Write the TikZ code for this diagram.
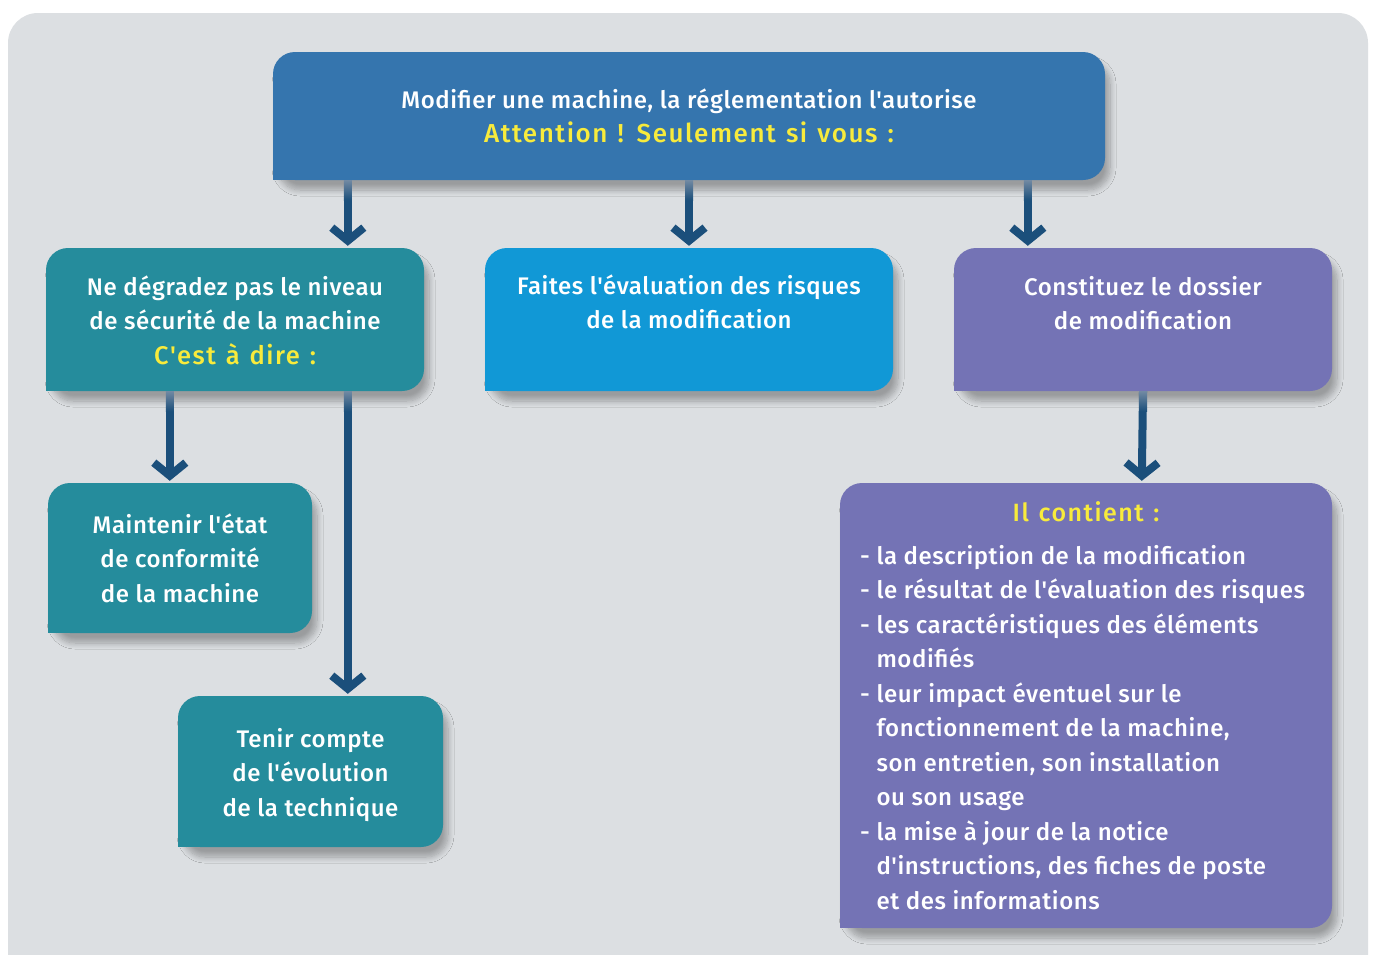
\documentclass[tikz,border=0pt]{standalone}
\usepackage{fontspec}
\setmainfont{Fira Sans}[Ligatures=TeXOff, UprightFont={* Medium}, BoldFont={* SemiBold}, LetterSpace=2.4]
\newfontfamily\ylfont{Fira Sans}[Ligatures=TeXOff, UprightFont={* Medium}, LetterSpace=6, WordSpace=1.25]
\usetikzlibrary{arrows.meta,shadows.blur,calc}
\definecolor{bgc}{HTML}{DCDFE2}
\definecolor{topc}{HTML}{3575AE}
\definecolor{tealc}{HTML}{258C9C}
\definecolor{bluec}{HTML}{1198D6}
\definecolor{purpc}{HTML}{7473B5}
\definecolor{arrc}{HTML}{1B4F7B}
\definecolor{arrl}{HTML}{7189A3}
\definecolor{ylw}{HTML}{F8EB3C}
\tikzset{
  box/.style={rectangle, rounded corners=22pt, inner sep=0pt, draw=none,
    blur shadow={shadow xshift=5pt, shadow yshift=-10pt, shadow blur steps=10, shadow blur radius=6pt, shadow opacity=30}},
  txt/.style={inner sep=0pt, text=white, font=\fontsize{24}{34.5}\selectfont, anchor=base},
  yl/.style={text=ylw, font=\ylfont\fontsize{25}{34.5}\selectfont},
  arr/.style={arrc, line width=8pt, -{Straight Barb[length=13pt, width=32pt]}},
  fadeshaft/.style={top color=arrl, bottom color=arrc},
}
\begin{document}
\begin{tikzpicture}[x=1pt,y=-1pt]
\useasboundingbox (0,0) rectangle (1375,954);
\fill[white] (0,0) rectangle (1375,954);
\begin{scope}
\clip (0,0) rectangle (1375,954);
\fill[bgc, rounded corners=30pt] (8,13) rectangle (1368,1020);
\end{scope}

% boxes
\node[box, fill=topc, minimum width=832pt, minimum height=128pt] (top) at (689,116) {};
\fill[topc] (top.south west) rectangle ++(25,-25);
\node[box, fill=tealc, minimum width=378pt, minimum height=143pt] (left) at (235,319.5) {};
\fill[tealc] (left.south west) rectangle ++(25,-25);
\node[box, fill=bluec, minimum width=408pt, minimum height=143pt] (mid) at (689,319.5) {};
\fill[bluec] (mid.south west) rectangle ++(25,-25);
\node[box, fill=purpc, minimum width=378pt, minimum height=143pt] (right) at (1143,319.5) {};
\fill[purpc] (right.south west) rectangle ++(25,-25);
\node[box, fill=tealc, minimum width=264pt, minimum height=150pt] (maint) at (180,558) {};
\fill[tealc] (maint.south west) rectangle ++(25,-25);
\node[box, fill=tealc, minimum width=265pt, minimum height=151pt] (tenir) at (310.5,771.5) {};
\fill[tealc] (tenir.south west) rectangle ++(25,-25);
\node[box, fill=purpc, minimum width=492pt, minimum height=445pt] (cont) at (1086,705.5) {};
\fill[purpc] (cont.south west) rectangle ++(25,-25);

% texts
\node[txt] (toptext) at (689,108) {\begin{tabular}[t]{@{}c@{}}Modifier une machine, la réglementation l'autorise\\
  {\color{ylw}\ylfont\fontsize{26}{30}\selectfont Attention ! Seulement si vous :}\end{tabular}};
\node[txt] (lefttext) at (235,295) {\begin{tabular}[t]{@{}c@{}}Ne dégradez pas le niveau\\ de sécurité de la machine\\ {\color{ylw}\ylfont\fontsize{25.5}{30}\selectfont C'est à dire :}\end{tabular}};
\node[txt] (midtext) at (689,294) {\begin{tabular}[t]{@{}c@{}}Faites l'évaluation des risques\\ de la modification\end{tabular}};
\node[txt] (righttext) at (1143,295) {\begin{tabular}[t]{@{}c@{}}Constituez le dossier\\ de modification\end{tabular}};
\node[txt] (mainttext) at (180,533) {\begin{tabular}[t]{@{}c@{}}Maintenir l'état\\ de conformité\\ de la machine\end{tabular}};
\node[txt] (tenirtext) at (310.5,747) {\begin{tabular}[t]{@{}c@{}}Tenir compte\\ de l'évolution\\ de la technique\end{tabular}};
\node[txt, yl] (conttitle) at (1086,521) {Il contient :};
\node[txt, anchor=base west] (contlist) at (860,564) {\begin{tabular}[t]{@{}l@{}}- la description de la modification\\
- le résultat de l'évaluation des risques\\
- les caractéristiques des éléments\\
\hphantom{- }modifiés\\
- leur impact éventuel sur le\\
\hphantom{- }fonctionnement de la machine,\\
\hphantom{- }son entretien, son installation\\
\hphantom{- }ou son usage\\
- la mise à jour de la notice\\
\hphantom{- }d'instructions, des fiches de poste\\
\hphantom{- }et des informations\end{tabular}};

% arrows
\coordinate (a1) at ($(top.south west)+(75,0)$);
\coordinate (a2) at (top.south);
\coordinate (a3) at ($(top.south west)+(755,0)$);
\coordinate (a4) at ($(left.south west)+(124,0)$);
\coordinate (a5) at ($(left.south west)+(302,0)$);
\coordinate (a6) at (right.south);
\draw[arr] (a1) -- ($(left.north west)+(302,-2)$);
\draw[arr] (a2) -- ($(mid.north)+(0,-2)$);
\draw[arr] (a3) -- ($(right.north west)+(74,-2)$);
\draw[arr] (a4) -- ($(maint.north west)+(122,-2)$);
\draw[arr] (a5) -- ($(tenir.north west)+(170,-2)$);
\draw[arr] (a6) -- ($(cont.north west)+(302,-2)$);
\foreach \c in {a1,a2,a3,a4,a5,a6}
  \shade[fadeshaft] ($(\c)+(-4,0)$) rectangle ($(\c)+(4,20)$);
\end{tikzpicture}
\end{document}
